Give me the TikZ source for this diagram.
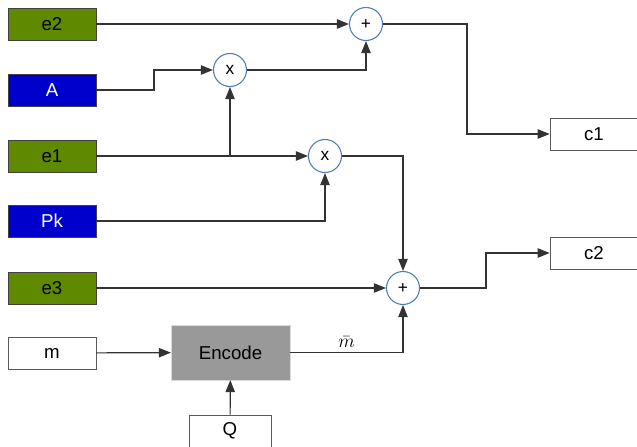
\documentclass[tikz,border=0pt]{standalone}
\usepackage{fontspec}
\setmainfont{Liberation Sans}
\usetikzlibrary{arrows.meta}
\definecolor{keygreen}{HTML}{5F8A00}
\definecolor{keyblue}{HTML}{0000CC}
\definecolor{ringblue}{HTML}{4A7EBB}
\definecolor{wire}{HTML}{333333}

\begin{document}
\begin{tikzpicture}[x=0.75pt,y=-0.75pt,>={Triangle[length=9pt,width=7pt]},
	box/.style={draw=black!75,minimum width=66pt,minimum height=24pt,inner sep=0pt,
		font=\fontsize{14}{16}\selectfont},
	gbox/.style={box,fill=keygreen},
	bbox/.style={box,fill=keyblue,text=white},
	wbox/.style={box,draw=black!65,fill=white},
	op/.style={circle,draw=ringblue,fill=white,thick,minimum size=24.75pt,inner sep=0pt,
		font=\fontsize{13}{15}\selectfont},
	wire/.style={draw=wire,line width=0.9pt}]
	
	\useasboundingbox (0,0) rectangle (637,447);
	
	\node [gbox] (e2) at (52,24) {e2};
	\node [bbox] (A) at (52,90) {A};
	\node [gbox] (e1) at (52,156) {e1};
	\node [bbox] (Pk) at (52,221) {Pk};
	\node [gbox] (e3) at (52,288) {e3};
	\node [wbox] (m) at (52,353) {m};
	
	\node [box,fill=black!40,draw=black!15,minimum width=89pt,minimum height=41pt] (enc) at (230.5,352.5) {Encode};
	\node [wbox,minimum width=61.5pt] (Q) at (230,431) {Q};
	
	\node [op] (mul1) at (230,70) {x};
	\node [op] (mul2) at (325,156) {x};
	\node [op] (add1) at (366,24) {+};
	\node [op] (add2) at (403,288) {+};
	
	\node [wbox] (c1) at (594,134) {c1};
	\node [wbox] (c2) at (594,253) {c2};
	
	\draw [wire,->] (e2) -- (add1);
	\draw [wire,->] (A.east) -- (154,90) |- (mul1);
	\draw [wire,->] (e1.east) -| (mul1.south);
	\draw [wire,->] (e1) -- (mul2);
	\draw [wire,->] (Pk.east) -| (mul2.south);
	\draw [wire,->] (mul1) -| (add1);
	\draw [wire,->] (mul2) -| (add2);
	\draw [wire,->] (e3) -- (add2);
	\draw [wire,->] (add1.east) -- ++(84,0) |- (c1.west);
	\draw [wire,->] (add2.east) -- ++(66,0) |- (c2.west);
	\draw [wire,->] (m) -- (enc);
	\draw [wire,->] (Q) -- (enc);
	\draw [wire,->] (enc) -| node [pos=0.25,above,font=\fontsize{14}{16}\selectfont] {$\bar{m}$} (add2);
	
\end{tikzpicture}
\end{document}
